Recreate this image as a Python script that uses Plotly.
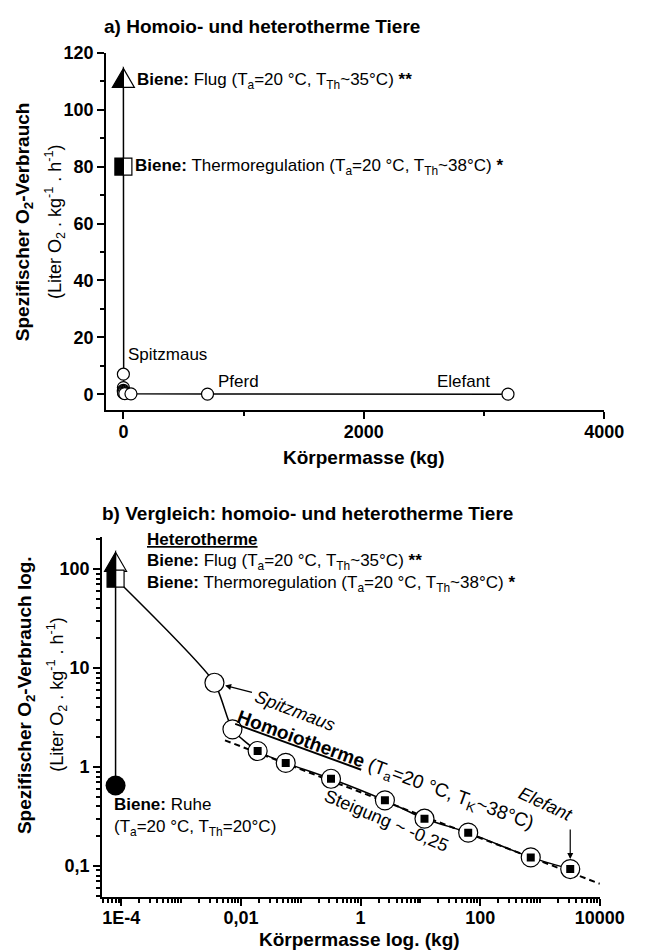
import math
import plotly.graph_objects as go

# ---------------- data ----------------
bee_mass = 8e-5                      # kg
bee_labels = ["Flug", "Thermoregulation", "Ruhe"]
bee_o2 = [110, 80, 0.65]             # Liter O2 / kg / h

mammal_names = ["Spitzmaus", "", "", "", "", "", "", "", "Pferd", "Elefant"]
mammal_mass = [0.0036, 0.0072, 0.019, 0.056, 0.32, 2.55, 11.7, 63, 700, 3200]
mammal_o2 = [7.1, 2.4, 1.45, 1.1, 0.76, 0.46, 0.30, 0.217, 0.122, 0.093]
mammal_square = [0, 0, 1, 1, 1, 1, 1, 1, 1, 1]

fit_mass = [0.0054, 10000]
fit_o2 = [1.86, 0.066]

lin_x_ticks = [0, 2000, 4000]
lin_x_text = ["0", "2000", "4000"]
lin_y_ticks = [0, 20, 40, 60, 80, 100, 120]
lin_y_text = ["0", "20", "40", "60", "80", "100", "120"]
log_x_ticks = [1e-4, 1e-2, 1, 100, 10000]
log_x_text = ["1E-4", "0,01", "1", "100", "10000"]
log_y_ticks = [0.1, 1, 10, 100]
log_y_text = ["0,1", "1", "10", "100"]

# ---------------- layout helpers ----------------
# the page body has an 8px margin, so the figure is drawn 8px right/down
OFF = 8
W, H = 658 - OFF, 952 - OFF
FONT = "Liberation Sans, Arial, sans-serif"


def px(x):
    return (x - OFF) / W


def py(y):
    return 1 - (y - OFF) / H


L = math.log10

fig = go.Figure()

# ---------------- top chart (linear) ----------------
top_x = [bee_mass, bee_mass] + mammal_mass
top_y = bee_o2[:2] + mammal_o2
fig.add_trace(go.Scatter(x=top_x, y=top_y, mode="lines",
                         line=dict(color="black", width=1.5),
                         xaxis="x", yaxis="y", showlegend=False, hoverinfo="skip"))
fig.add_trace(go.Scatter(x=mammal_mass, y=mammal_o2, mode="markers",
                         marker=dict(symbol="circle", size=12, color="white",
                                     line=dict(color="black", width=1.2)),
                         xaxis="x", yaxis="y", showlegend=False, hoverinfo="skip"))

# ---------------- bottom chart (log-log) ----------------
fig.add_trace(go.Scatter(x=fit_mass, y=fit_o2, mode="lines",
                         line=dict(color="black", width=2, dash="6px,4px"),
                         xaxis="x2", yaxis="y2", showlegend=False, hoverinfo="skip"))
fig.add_trace(go.Scatter(x=[bee_mass, bee_mass], y=[bee_o2[2], bee_o2[0]], mode="lines",
                         line=dict(color="black", width=1.5),
                         xaxis="x2", yaxis="y2", showlegend=False, hoverinfo="skip"))
fig.add_trace(go.Scatter(x=[bee_mass] + mammal_mass, y=[bee_o2[1]] + mammal_o2,
                         mode="lines", line=dict(color="black", width=1.5, shape="spline", smoothing=0.6),
                         xaxis="x2", yaxis="y2", showlegend=False, hoverinfo="skip"))
fig.add_trace(go.Scatter(x=mammal_mass, y=mammal_o2, mode="markers",
                         marker=dict(symbol="circle", size=19, color="white",
                                     line=dict(color="black", width=1.2)),
                         xaxis="x2", yaxis="y2", showlegend=False, hoverinfo="skip"))
sq_x = [m for m, s in zip(mammal_mass, mammal_square) if s]
sq_y = [v for v, s in zip(mammal_o2, mammal_square) if s]
fig.add_trace(go.Scatter(x=sq_x, y=sq_y, mode="markers",
                         marker=dict(symbol="square", size=8, color="black"),
                         xaxis="x2", yaxis="y2", showlegend=False, hoverinfo="skip"))
fig.add_trace(go.Scatter(x=[bee_mass], y=[bee_o2[2]], mode="markers",
                         marker=dict(symbol="circle", size=20, color="black"),
                         xaxis="x2", yaxis="y2", showlegend=False, hoverinfo="skip"))

# ---------------- half-filled bee markers (pixel-sized shapes anchored at data) ----------------
TRI_L = "M-11,-6.3L0,12.7L0,-6.3Z"
TRI_R = "M0,12.7L11,-6.3L0,-6.3Z"
SQ_L = "M-8.5,-8.5L0,-8.5L0,8.5L-8.5,8.5Z"
SQ_R = "M0,-8.5L8.5,-8.5L8.5,8.5L0,8.5Z"
shapes = []
for xr, yr in (("x", "y"), ("x2", "y2")):
    for path, fill, val in ((TRI_R, "white", bee_o2[0]), (TRI_L, "black", bee_o2[0]),
                            (SQ_R, "white", bee_o2[1]), (SQ_L, "black", bee_o2[1])):
        shapes.append(dict(type="path", path=path, xref=xr, yref=yr,
                           xsizemode="pixel", ysizemode="pixel",
                           xanchor=bee_mass, yanchor=val,
                           fillcolor=fill, line=dict(color="black", width=1.2),
                           layer="above"))

# ---------------- annotations ----------------
ann = []
TXT = dict(family=FONT, size=17, color="black")


def add(text, **kw):
    d = dict(text=text, showarrow=False, font=kw.pop("font", TXT))
    d.update(kw)
    ann.append(d)


# titles
add("<b>a) Homoio- und heterotherme Tiere</b>", xref="paper", yref="paper",
    x=px(106), y=py(17), xanchor="left", yanchor="middle", font=dict(family=FONT, size=19))
add("<b>b) Vergleich: homoio- und heterotherme Tiere</b>", xref="paper", yref="paper",
    x=px(104), y=py(509), xanchor="left", yanchor="middle", font=dict(family=FONT, size=19))

# axis titles
add("<b>Spezifischer O<sub>2</sub>-Verbrauch</b>", xref="paper", yref="paper",
    x=px(24), y=py(214), textangle=-90, xanchor="center", yanchor="middle",
    font=dict(family=FONT, size=19))
add("(Liter O<sub>2</sub> . kg<sup>-1</sup> . h<sup>-1</sup>)", xref="paper", yref="paper",
    x=px(57), y=py(214), textangle=-90, xanchor="center", yanchor="middle",
    font=dict(family=FONT, size=18))
add("<b>Spezifischer O<sub>2</sub>-Verbrauch log.</b>", xref="paper", yref="paper",
    x=px(26), y=py(692), textangle=-90, xanchor="center", yanchor="middle",
    font=dict(family=FONT, size=19))
add("(Liter O<sub>2</sub> . kg<sup>-1</sup> . h<sup>-1</sup>)", xref="paper", yref="paper",
    x=px(59), y=py(692), textangle=-90, xanchor="center", yanchor="middle",
    font=dict(family=FONT, size=18))
add("<b>Körpermasse (kg)</b>", xref="paper", yref="paper",
    x=px(378), y=py(452), xanchor="center", yanchor="middle", font=dict(family=FONT, size=19))
add("<b>Körpermasse log. (kg)</b>", xref="paper", yref="paper",
    x=px(374), y=py(939), xanchor="center", yanchor="middle", font=dict(family=FONT, size=19))

flug_txt = "<b>Biene:</b> Flug (T<sub>a</sub>=20 °C, T<sub>Th</sub>~35°C) <b>**</b>"
thermo_txt = "<b>Biene:</b> Thermoregulation (T<sub>a</sub>=20 °C, T<sub>Th</sub>~38°C) <b>*</b>"

# top chart labels
add(flug_txt, xref="x", yref="y", x=bee_mass, y=bee_o2[0], xanchor="left", yanchor="middle", xshift=12)
add(thermo_txt, xref="x", yref="y", x=bee_mass, y=bee_o2[1], xanchor="left", yanchor="middle", xshift=10)
add(mammal_names[0], xref="x", yref="y", x=mammal_mass[0], y=mammal_o2[0],
    xanchor="left", yanchor="middle", xshift=3, yshift=20)
add(mammal_names[8], xref="x", yref="y", x=mammal_mass[8], y=mammal_o2[8],
    xanchor="left", yanchor="middle", xshift=8, yshift=13)
add(mammal_names[9], xref="x", yref="y", x=mammal_mass[9], y=mammal_o2[9],
    xanchor="right", yanchor="middle", xshift=-16, yshift=13)

# bottom chart labels
bx, by = L(bee_mass), L(bee_o2[0])
add("<u><b>Heterotherme</b></u>", xref="x2", yref="y2", x=bx, y=by,
    xanchor="left", yanchor="middle", xshift=29, yshift=26)
add(flug_txt, xref="x2", yref="y2", x=bx, y=by, xanchor="left", yanchor="middle", xshift=29, yshift=3)
add(thermo_txt, xref="x2", yref="y2", x=bx, y=L(bee_o2[1]), xanchor="left", yanchor="middle",
    xshift=29, yshift=-5)
add("<b>Biene:</b> Ruhe", xref="x2", yref="y2", x=bx, y=L(bee_o2[2]), xanchor="left",
    yanchor="middle", xshift=-4, yshift=-19)
add("(T<sub>a</sub>=20 °C, T<sub>Th</sub>=20°C)", xref="x2", yref="y2", x=bx, y=L(bee_o2[2]),
    xanchor="left", yanchor="middle", xshift=-4, yshift=-43)

sx, sy = L(mammal_mass[0]), L(mammal_o2[0])
add("<i>" + mammal_names[0] + "</i>", xref="x2", yref="y2", x=sx, y=sy, xanchor="center",
    yanchor="middle", xshift=81, yshift=-28, textangle=21, font=dict(family=FONT, size=18))
ann.append(dict(text="", xref="x2", yref="y2", x=sx, y=sy, showarrow=True, ax=39, ay=10,
                arrowhead=2, arrowsize=1, arrowwidth=1.2, arrowcolor="black", standoff=11))

hx, hy = L(mammal_mass[5]), L(mammal_o2[5])
add("<u><b>Homoiotherme</b></u> (T<sub>a</sub>=20 °C, T<sub>K</sub>~38°C)", xref="x2", yref="y2",
    x=hx, y=hy, xanchor="center", yanchor="middle", xshift=0, yshift=29, textangle=20,
    font=dict(family=FONT, size=19))
add("Steigung ~ -0,25", xref="x2", yref="y2", x=hx, y=hy, xanchor="center", yanchor="middle",
    xshift=2, yshift=-21, textangle=23, font=dict(family=FONT, size=18))

ex, ey = L(mammal_mass[9]), L(mammal_o2[9])
add("<i>" + mammal_names[9] + "</i>", xref="x2", yref="y2", x=ex, y=ey, xanchor="center",
    yanchor="middle", xshift=-25, yshift=65, textangle=25, font=dict(family=FONT, size=18))
ann.append(dict(text="", xref="x2", yref="y2", x=ex, y=ey, showarrow=True, ax=0, ay=-41,
                arrowhead=2, arrowsize=1, arrowwidth=1.2, arrowcolor="black", standoff=10))

# ---------------- axes ----------------
TICKFONT = dict(family=FONT, size=18, color="black", weight="bold")
common = dict(showline=True, linewidth=2, linecolor="black", ticks="outside", ticklen=7,
              tickwidth=2, tickcolor="black", showgrid=False, zeroline=False,
              tickfont=TICKFONT, mirror=False)

log_x_minor = [m * 10 ** d for d in range(-5, 5) for m in range(1, 10)
               if 10 ** -4.32 < m * 10 ** d <= 10000 and (m * 10 ** d) not in log_x_ticks]
log_y_minor = [m * 10 ** d for d in range(-2, 3) for m in range(1, 10)
               if 10 ** -1.31 < m * 10 ** d < 10 ** 2.33 and (m * 10 ** d) not in log_y_ticks]

fig.update_layout(
    width=W, height=H, margin=dict(l=0, r=0, t=0, b=0),
    paper_bgcolor="white", plot_bgcolor="white", showlegend=False,
    font=dict(family=FONT, color="black"),
    xaxis=dict(domain=[px(110), px(628)], anchor="y", range=[-144, 4000],
               tickmode="array", tickvals=lin_x_ticks, ticktext=lin_x_text,
               ticklabelstandoff=-2,
               minor=dict(ticks="outside", ticklen=4, tickwidth=2, tickcolor="black",
                          tickmode="linear", tick0=1000, dtick=2000), **common),
    yaxis=dict(domain=[py(404), py(43)], anchor="x", range=[-5.4, 120],
               tickmode="array", tickvals=lin_y_ticks, ticktext=lin_y_text,
               minor=dict(ticks="outside", ticklen=4, tickwidth=2, tickcolor="black",
                          tickmode="linear", tick0=10, dtick=20), **common),
    xaxis2=dict(domain=[px(106), px(623.5)], anchor="y2", type="log", range=[-4.32, 4.0],
                tickmode="array", tickvals=log_x_ticks, ticktext=log_x_text,
                ticklabelstandoff=-3,
                minor=dict(ticks="outside", ticklen=4, tickwidth=1.5, tickcolor="black",
                           tickmode="array", tickvals=log_x_minor), **common),
    yaxis2=dict(domain=[py(896), py(533)], anchor="x2", type="log", range=[-1.31, 2.32],
                tickmode="array", tickvals=log_y_ticks, ticktext=log_y_text,
                minor=dict(ticks="outside", ticklen=4, tickwidth=1.5, tickcolor="black",
                           tickmode="array", tickvals=log_y_minor), **common),
    shapes=shapes, annotations=ann,
)

fig.write_html("out.html")
